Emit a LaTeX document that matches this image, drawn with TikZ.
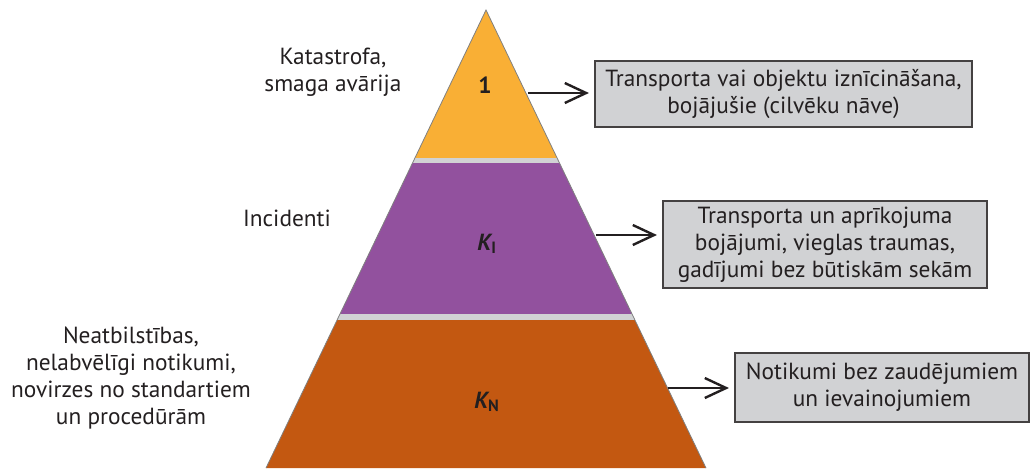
\documentclass[tikz,border=0pt]{standalone}
\usepackage{fontspec}
\setmainfont{PT Sans}
\usetikzlibrary{arrows.meta}

\definecolor{txt}{HTML}{231F20}
\definecolor{lvlTop}{HTML}{F9AF35}
\definecolor{lvlMid}{HTML}{92519E}
\definecolor{lvlLow}{HTML}{C35811}
\definecolor{band}{HTML}{D1D2D4}

\begin{document}
\begin{tikzpicture}[x=0.75pt,y=-0.75pt]
\tikzset{ >={Straight Barb[length=16pt,width=15pt]}, font=\fontsize{17.5}{20.25}\selectfont, text=txt,
  lbl/.style={align=center, inner sep=0pt},
  effect/.style={draw=txt!85, line width=1.1pt, fill=band, align=center, inner sep=0pt},
  pointer/.style={->, txt, line width=1.8pt, shorten >=4pt},
}

%\draw [lightgray, dashed](0,0) grid[step=50] (1031,468);
\useasboundingbox (0,0) rectangle (1031,468);

\coordinate (A)  at (486,10);
\coordinate (BL) at (266,468);
\coordinate (BR) at (706,468);

\begin{scope}
\clip (A) -- (BL) -- (BR) -- cycle;
\fill [lvlTop] (200,0)   rectangle (800,158);
\fill [band]   (200,158) rectangle (800,163);
\fill [lvlMid] (200,163) rectangle (800,314);
\fill [band]   (200,314) rectangle (800,320);
\fill [lvlLow] (200,320) rectangle (800,470);
\end{scope}
\draw [gray, line width=0.6pt] (BL) -- (A) -- (BR);

\node [lbl] (one) at (485,85)  {\bfseries 1};
\node [lbl] (KI)  at (487,244) {{\bfseries\itshape K}\textsubscript{\bfseries I}};
\node [lbl] (KN)  at (487,402) {{\bfseries\itshape K}\textsubscript{\bfseries N}};

\node [lbl] (cat) at (333,72)  {Katastrofa,\\smaga avārija};
\node [lbl] (inc) at (287,218) {Incidenti};
\node [lbl] (non) at (131,378) {Neatbilstības,\\nelabvēlīgi notikumi,\\novirzes no standartiem\\un procedūrām};

\node [effect, minimum width=282.75pt, minimum height=49.5pt]  (e1) at (783.5,94)  {Transporta vai objektu iznīcināšana,\\bojājušie (cilvēku nāve)};
\node [effect, minimum width=243pt,    minimum height=65.25pt] (e2) at (825,244.5) {Transporta un aprīkojuma\\bojājumi, vieglas traumas,\\gadījumi bez būtiskām sekām};
\node [effect, minimum width=220.5pt,  minimum height=51.75pt] (e3) at (882,387.5) {Notikumi bez zaudējumiem\\un ievainojumiem};

\coordinate (p1) at (528,93);
\coordinate (p2) at (596,235);
\coordinate (p3) at (668,388);

\draw [pointer] (p1) -- (p1 -| e1.west);
\draw [pointer] (p2) -- (p2 -| e2.west);
\draw [pointer] (p3) -- (p3 -| e3.west);

\end{tikzpicture}
\end{document}
